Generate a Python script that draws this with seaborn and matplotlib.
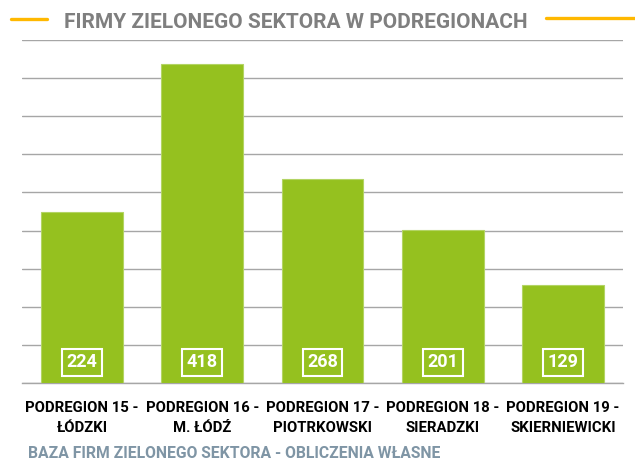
import matplotlib
matplotlib.use("Agg")
import matplotlib.pyplot as plt
import matplotlib.transforms as mtransforms
import seaborn as sns
import pandas as pd

categories = ["PODREGION 15 -\nŁÓDZKI", "PODREGION 16 -\nM. ŁÓDŹ", "PODREGION 17 -\nPIOTRKOWSKI",
              "PODREGION 18 -\nSIERADZKI", "PODREGION 19 -\nSKIERNIEWICKI"]
values = [224, 418, 268, 201, 129]
title = "FIRMY ZIELONEGO SEKTORA W PODREGIONACH"
source = "BAZA FIRM ZIELONEGO SEKTORA - OBLICZENIA WŁASNE"

sns.set_theme(style="white")
plt.rcParams['font.family'] = ['Roboto', 'DejaVu Sans']

df = pd.DataFrame({"cat": categories, "val": values})

fig = plt.figure(figsize=(6.35, 4.59), dpi=100)
ax = fig.add_axes([22/635, 1-383/459, (623-22)/635, (383-40)/459])

sns.barplot(data=df, x="cat", y="val", color="#95C11F", saturation=1, width=0.68,
            edgecolor="#b3d464", linewidth=0.8, ax=ax, zorder=3)

ax.set_ylim(0, 450)
ax.set_xlim(-0.5, len(categories) - 0.5)
ax.set_yticks(range(0, 451, 50))
ax.set_yticklabels([])
ax.tick_params(axis='y', length=0)
ax.grid(axis='y', color="#a6a6a6", linewidth=1.0, zorder=0)
ax.set_axisbelow(True)
ax.set_xlabel("")
ax.set_ylabel("")
for s in ["left", "right", "top"]:
    ax.spines[s].set_visible(False)
ax.spines["bottom"].set_color("#a6a6a6")
ax.spines["bottom"].set_linewidth(1.0)

# category labels centered, ticks at boundaries
ax.set_xticks(range(len(categories)))
ax.set_xticklabels(categories, fontsize=10.7, fontweight='bold', color="black", linespacing=1.5)
ax.tick_params(axis='x', which='major', length=0, pad=13)
ax.set_xticks([i - 0.5 for i in range(len(categories) + 1)], minor=True)
ax.tick_params(axis='x', which='minor', length=6, color="#a6a6a6", width=1, direction='out')

# value boxes
trans = mtransforms.blended_transform_factory(ax.transData, ax.transAxes)
for i, v in enumerate(values):
    ax.text(i, 0.061, str(v), transform=trans, ha='center', va='center', color='white',
            fontsize=13, fontweight='bold', zorder=5,
            bbox=dict(boxstyle='square,pad=0.25', facecolor='none', edgecolor='white', linewidth=1.5))

# title and decorations
fig.text(296/635, 1-22.5/459, title, ha='center', va='center', fontsize=15, fontweight='bold', color="#7f7f7f")
fig.add_artist(plt.Line2D([11/635, 47/635], [1-19/459, 1-19/459], color="#FFB800", linewidth=2.4))
fig.add_artist(plt.Line2D([546/635, 1.0], [1-18/459, 1-18/459], color="#FFB800", linewidth=2.4))

fig.text(28/635, 1-453/459, source, ha='left', va='center', fontsize=11.3, fontweight='bold', color="#7f95a5")

fig.savefig("out.png", dpi=100)
